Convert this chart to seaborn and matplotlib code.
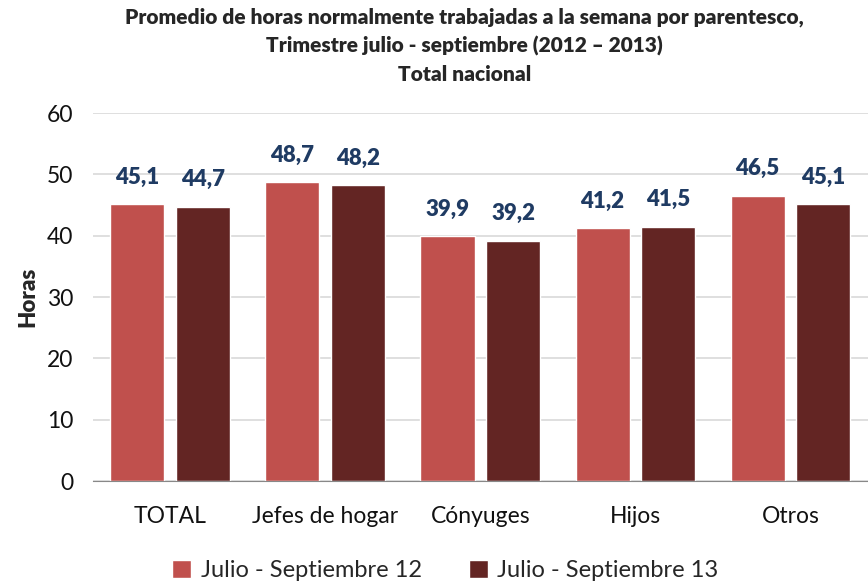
import pandas as pd
import matplotlib.pyplot as plt
import seaborn as sns

categorias = ['TOTAL', 'Jefes de hogar', 'Cónyuges', 'Hijos', 'Otros']
serie_12 = [45.1, 48.7, 39.9, 41.2, 46.5]
serie_13 = [44.7, 48.2, 39.2, 41.5, 45.1]
series = ['Julio - Septiembre 12', 'Julio - Septiembre 13']
colores = ['#C0504D', '#632523']

df = pd.DataFrame({
    'categoria': categorias * 2,
    'horas': serie_12 + serie_13,
    'serie': [series[0]] * len(categorias) + [series[1]] * len(categorias),
})

sns.set_style('white')
plt.rcParams['font.family'] = ['Lato', 'DejaVu Sans']

fig = plt.figure(figsize=(8.68, 5.86), dpi=100)
ax = fig.add_axes([0.107, 0.179, 0.893, 0.628])

sns.barplot(data=df, x='categoria', y='horas', hue='serie', palette=colores,
            width=0.85, gap=0.18, ax=ax, saturation=1, legend=True)

# etiquetas de valor con coma decimal
for cont in ax.containers:
    labels = [f'{v:.1f}'.replace('.', ',') for v in cont.datavalues]
    ax.bar_label(cont, labels=labels, padding=12, fontsize=16, fontweight='heavy',
                 color='#1F3B63')

ax.set_ylim(0, 60)
ax.set_yticks(range(0, 61, 10))
ax.set_xlim(-0.5, 4.5)
ax.yaxis.grid(True, color='#D9D9D9', linewidth=1.2)
ax.set_axisbelow(True)
for s in ['top', 'right', 'left']:
    ax.spines[s].set_visible(False)
ax.spines['bottom'].set_color('#888888')
ax.tick_params(axis='both', length=0, labelsize=16.5, colors='#111111')
ax.tick_params(axis='x', pad=18)
ax.tick_params(axis='y', pad=14)
ax.set_xlabel('')
ax.set_ylabel('Horas', fontsize=16, fontweight='heavy', labelpad=6)

fig.suptitle('Promedio de horas normalmente trabajadas a la semana por parentesco,\n'
             'Trimestre julio - septiembre (2012 – 2013)\nTotal nacional',
             x=0.535, y=0.987, fontsize=15, fontweight='heavy', linespacing=1.55)

ax.legend(loc='center', bbox_to_anchor=(0.455, -0.242), ncol=2, frameon=False,
          fontsize=17, handlelength=0.8, handleheight=0.8, columnspacing=2.0,
          handletextpad=0.4, borderpad=0)

plt.savefig('out.png', dpi=100)
